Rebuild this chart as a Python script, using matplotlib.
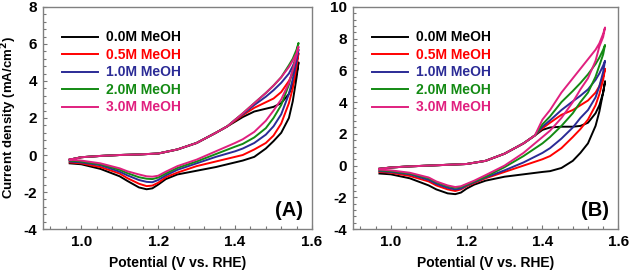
import matplotlib
matplotlib.use("Agg")
import matplotlib.pyplot as plt
from matplotlib.ticker import AutoMinorLocator, MultipleLocator

plt.rcParams["font.family"] = ["Liberation Sans", "DejaVu Sans"]
plt.rcParams["font.weight"] = "bold"
plt.rcParams["axes.unicode_minus"] = False

labels = ["0.0M MeOH", "0.5M MeOH", "1.0M MeOH", "2.0M MeOH", "3.0M MeOH"]
colors = ["#000000", "#ff0000", "#2b2b96", "#138a13", "#e0207f"]

# anodic (forward) sweep potentials and cathodic (backward) sweep potentials
v_fwd = [0.97, 1.0, 1.05, 1.1, 1.15, 1.2, 1.25, 1.3, 1.35, 1.38,
         1.4, 1.42, 1.45, 1.48, 1.5, 1.52, 1.54, 1.55, 1.56, 1.565]
v_bwd = [1.565, 1.56, 1.55, 1.54, 1.52, 1.5, 1.48, 1.45, 1.42, 1.4, 1.35, 1.3,
         1.25, 1.22, 1.2, 1.185, 1.17, 1.15, 1.12, 1.1, 1.05, 1.0, 0.97]

# panel A
a_common = [-0.25, -0.12, -0.05, 0.0, 0.03, 0.08, 0.3, 0.65, 1.2, 1.55]
a_fwd_tail = [
    [1.8, 2.05, 2.35, 2.5, 2.6, 2.8, 3.3, 3.8, 4.4, 5.0],
    [1.85, 2.15, 2.55, 2.85, 3.05, 3.4, 4.0, 4.4, 5.0, 5.5],
    [1.9, 2.2, 2.7, 3.15, 3.5, 3.9, 4.4, 4.8, 5.3, 5.7],
    [1.9, 2.25, 2.8, 3.35, 3.75, 4.2, 4.85, 5.2, 5.7, 6.05],
    [1.9, 2.25, 2.8, 3.35, 3.75, 4.2, 4.75, 5.1, 5.5, 5.85],
]
a_bwd = [
    [5.0, 4.2, 2.9, 2.0, 1.2, 0.75, 0.35, -0.1, -0.3, -0.4, -0.65, -0.85,
     -1.05, -1.3, -1.6, -1.8, -1.85, -1.75, -1.4, -1.15, -0.75, -0.5, -0.45],
    [5.5, 4.8, 3.6, 2.8, 1.7, 1.05, 0.65, 0.3, 0.0, -0.1, -0.35, -0.6,
     -0.95, -1.2, -1.5, -1.65, -1.68, -1.55, -1.25, -1.0, -0.65, -0.45, -0.4],
    [5.7, 5.1, 4.1, 3.3, 2.2, 1.55, 1.1, 0.65, 0.35, 0.2, -0.1, -0.45,
     -0.8, -1.1, -1.35, -1.47, -1.45, -1.35, -1.1, -0.9, -0.55, -0.4, -0.35],
    [6.05, 5.5, 4.6, 3.8, 2.7, 2.0, 1.45, 0.95, 0.6, 0.45, 0.05, -0.35,
     -0.7, -1.0, -1.22, -1.3, -1.28, -1.2, -0.98, -0.8, -0.5, -0.35, -0.3],
    [5.85, 5.4, 4.6, 3.9, 3.0, 2.4, 1.85, 1.25, 0.85, 0.65, 0.2, -0.25,
     -0.6, -0.9, -1.12, -1.17, -1.15, -1.05, -0.88, -0.72, -0.45, -0.3, -0.25],
]

# panel B
b_common = [-0.2, -0.12, -0.05, 0.0, 0.05, 0.1, 0.3, 0.75, 1.4, 1.9]
b_fwd_tail = [
    [2.25, 2.4, 2.45, 2.45, 2.5, 2.7, 3.3, 3.8, 4.6, 5.3],
    [2.35, 2.7, 3.2, 3.5, 3.8, 4.1, 4.6, 5.0, 5.6, 6.1],
    [2.45, 2.85, 3.5, 4.05, 4.4, 4.8, 5.4, 5.8, 6.3, 6.6],
    [2.6, 3.1, 4.0, 4.7, 5.2, 5.75, 6.4, 6.8, 7.3, 7.6],
    [2.9, 3.5, 4.6, 5.5, 6.1, 6.7, 7.3, 7.7, 8.3, 8.7],
]
b_bwd = [
    [5.3, 4.6, 3.4, 2.5, 1.4, 0.8, 0.3, -0.15, -0.35, -0.4, -0.55, -0.7,
     -0.95, -1.2, -1.45, -1.7, -1.8, -1.75, -1.5, -1.25, -0.8, -0.55, -0.5],
    [6.1, 5.4, 4.5, 3.8, 2.9, 2.3, 1.8, 1.1, 0.6, 0.4, 0.0, -0.4,
     -0.8, -1.1, -1.3, -1.5, -1.6, -1.5, -1.25, -1.0, -0.65, -0.45, -0.4],
    [6.6, 5.9, 5.0, 4.3, 3.5, 3.0, 2.4, 1.7, 1.1, 0.8, 0.2, -0.3,
     -0.75, -1.05, -1.25, -1.45, -1.5, -1.4, -1.15, -0.9, -0.55, -0.4, -0.35],
    [7.6, 7.0, 6.3, 5.6, 4.6, 4.0, 3.3, 2.5, 1.8, 1.4, 0.6, -0.1,
     -0.7, -1.0, -1.2, -1.35, -1.4, -1.3, -1.05, -0.8, -0.5, -0.35, -0.3],
    [8.7, 8.1, 7.5, 6.6, 5.5, 4.8, 4.0, 3.0, 2.2, 1.8, 0.8, 0.0,
     -0.6, -0.95, -1.15, -1.3, -1.35, -1.25, -1.0, -0.75, -0.45, -0.3, -0.25],
]

fig = plt.figure(figsize=(6.29, 2.75), dpi=100)
axA = fig.add_axes([0.068, 0.167, 0.428, 0.808])
axB = fig.add_axes([0.561, 0.167, 0.422, 0.808])


def draw(ax, common, fwd_tail, bwd, ylim, tag):
    for i in range(len(labels)):
        x = v_fwd + v_bwd
        y = common + fwd_tail[i] + bwd[i]
        ax.plot(x, y, color=colors[i], lw=1.4, label=labels[i])
    ax.set_xlim(0.9, 1.6)
    ax.set_ylim(*ylim)
    ax.set_xticks([1.0, 1.2, 1.4, 1.6])
    ax.yaxis.set_major_locator(MultipleLocator(2))
    ax.xaxis.set_minor_locator(MultipleLocator(0.04))
    ax.yaxis.set_minor_locator(AutoMinorLocator(5))
    ax.tick_params(which="both", direction="in", colors="#777777",
                   labelcolor="black", labelsize=11, width=0.8, pad=4)
    ax.tick_params(which="major", length=3)
    ax.tick_params(which="minor", length=2)
    for s in ax.spines.values():
        s.set_color("#808080")
        s.set_linewidth(1.0)
    ax.set_xlabel("Potential (V vs. RHE)", fontsize=10, fontweight="bold", labelpad=5)
    ax.legend(loc="upper left", bbox_to_anchor=(0.025, 0.95), frameon=False,
              handlelength=2.6, handletextpad=0.6, labelspacing=0.25,
              prop={"weight": "bold", "size": 10}, labelcolor="linecolor")
    ax.text(0.965, 0.04, tag, transform=ax.transAxes, ha="right", va="bottom",
            fontsize=14.5, fontweight="bold")


draw(axA, a_common, a_fwd_tail, a_bwd, (-4, 8), "(A)")
draw(axB, b_common, b_fwd_tail, b_bwd, (-4, 10), "(B)")
axA.set_ylabel("Current density (mA/cm$^\\mathbf{2}$)", fontsize=9.5,
               fontweight="bold", labelpad=3)

fig.savefig("out.png", dpi=100)
